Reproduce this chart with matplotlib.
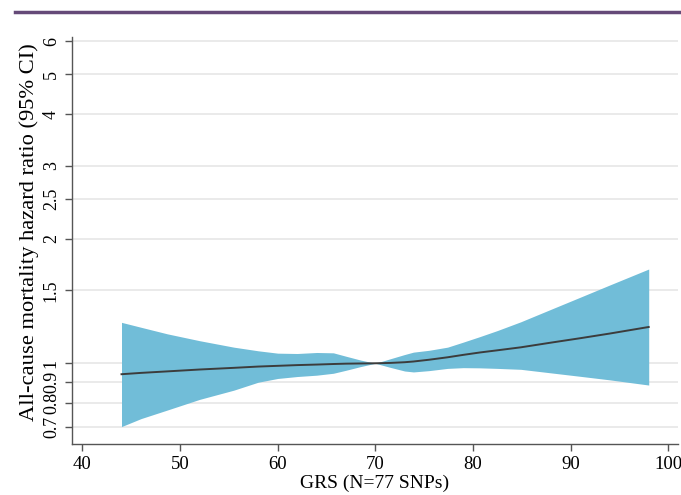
import matplotlib.pyplot as plt
from matplotlib.lines import Line2D

# GRS values and hazard ratio curve
grs = [44, 46, 48.7, 52, 55.5, 58, 60, 62, 64, 65.7, 67, 68.5, 70,
       71.5, 73, 73.9, 75.5, 77.4, 79, 80.7, 82.5, 84.9, 88, 91, 94, 98]
hr = [0.941, 0.948, 0.956, 0.966, 0.975, 0.982, 0.986, 0.990, 0.993, 0.996, 0.998, 0.999, 1.0,
      1.002, 1.006, 1.010, 1.020, 1.034, 1.048, 1.062, 1.075, 1.093, 1.122, 1.150, 1.180, 1.224]
hr_hi = [1.256, 1.222, 1.178, 1.134, 1.094, 1.072, 1.058, 1.056, 1.062, 1.060, 1.040, 1.018, 1.0,
         1.025, 1.050, 1.064, 1.075, 1.094, 1.125, 1.160, 1.200, 1.260, 1.351, 1.445, 1.546, 1.690]
hr_lo = [0.703, 0.735, 0.771, 0.818, 0.861, 0.900, 0.919, 0.929, 0.936, 0.946, 0.962, 0.982, 1.0,
         0.978, 0.958, 0.953, 0.960, 0.972, 0.976, 0.975, 0.972, 0.967, 0.948, 0.930, 0.912, 0.886]

yticks = [0.7, 0.8, 0.9, 1, 1.5, 2, 2.5, 3, 4, 5, 6]
ytick_labels = ['0.7', '0.8', '0.9', '1', '1.5', '2', '2.5', '3', '4', '5', '6']
xticks = [40, 50, 60, 70, 80, 90, 100]

plt.rcParams['font.family'] = ['Liberation Serif', 'DejaVu Serif']

fig = plt.figure(figsize=(6.81, 4.95), dpi=100)
ax = fig.add_axes([0.1053, 0.1024, 0.8903, 0.8229])

ax.fill_between(grs, hr_lo, hr_hi, color='#71bdd8', linewidth=0, zorder=2)
ax.plot(grs, hr, color='#3c3c3c', linewidth=1.4, zorder=3)

ax.set_yscale('log')
ax.set_ylim(0.637, 6.15)
ax.set_xlim(38.9, 101)
ax.set_yticks(yticks)
ax.set_yticklabels(ytick_labels, rotation=90, va='center')
ax.minorticks_off()
ax.set_xticks(xticks)
ax.tick_params(axis='x', labelsize=13.5, color='#555555', length=5, width=1)
ax.tick_params(axis='y', labelsize=13, color='#555555', length=5, width=1)
ax.yaxis.grid(True, color='#e6e6e6', linewidth=1.2, zorder=0)
ax.set_axisbelow(True)

for side in ['top', 'right']:
    ax.spines[side].set_visible(False)
for side in ['left', 'bottom']:
    ax.spines[side].set_color('#555555')
    ax.spines[side].set_linewidth(1.0)

ax.set_xlabel('GRS (N=77 SNPs)', fontsize=14, labelpad=1)
ax.set_ylabel('All-cause mortality hazard ratio (95% CI)', fontsize=16.2, labelpad=3)
ax.yaxis.label.set_y(0.52)

# purple rule across the top
fig.add_artist(Line2D([15 / 681, 1], [1 - 12 / 495, 1 - 12 / 495],
                      color='#654a78', linewidth=2.5, transform=fig.transFigure))

fig.savefig('out.png', dpi=100)
